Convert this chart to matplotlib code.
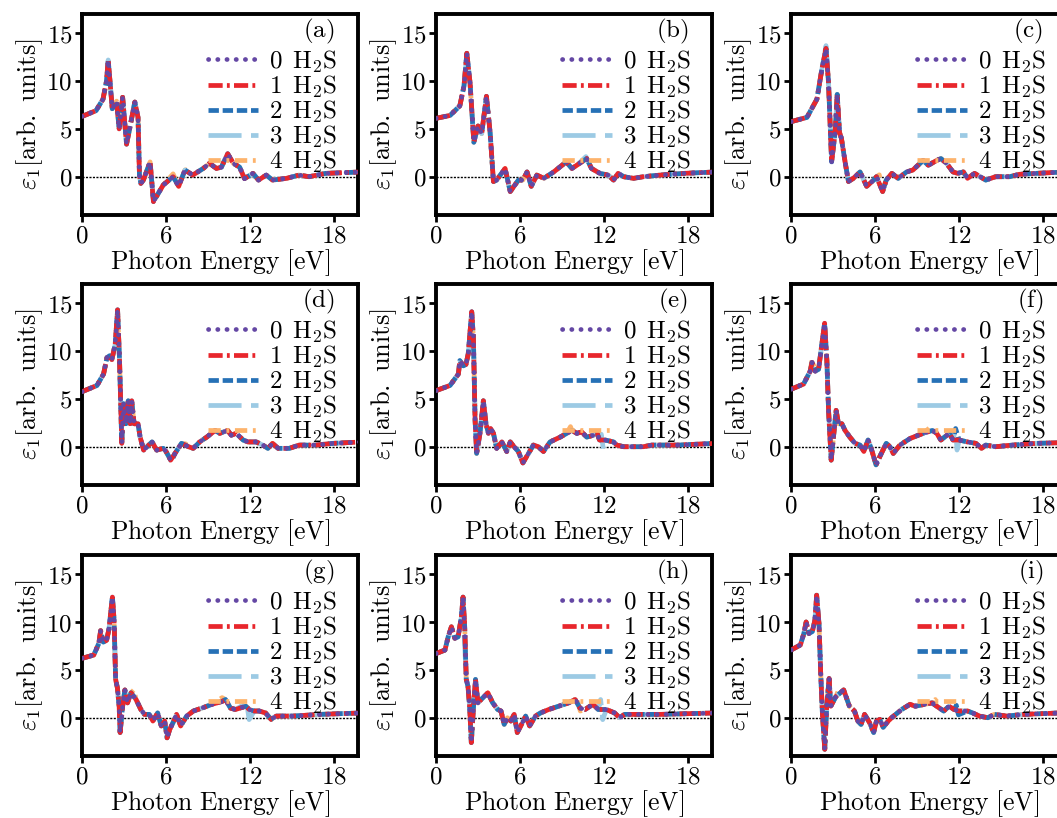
import matplotlib
matplotlib.use('Agg')
import matplotlib.pyplot as plt
from matplotlib.ticker import FixedLocator, FuncFormatter

plt.rcParams['mathtext.fontset'] = 'cm'
plt.rcParams['font.family'] = 'serif'

panel_tags = ['(a)', '(b)', '(c)', '(d)', '(e)', '(f)', '(g)', '(h)', '(i)']
n_h2s = [0, 1, 2, 3, 4]
xticks = [0, 6, 12, 18]
yticks = [0, 5, 10, 15]

# eps_1, (energy eV, value) for the 0 H2S curve of each panel
energy_a = [0, 1.0, 1.5, 1.75, 1.87, 2.16, 2.47, 2.65, 2.9, 3.18, 3.4, 3.65, 3.77, 4.0, 4.1, 4.2, 4.38,
            4.86, 5.1, 5.8, 6.5, 6.9, 7.35, 7.9, 8.65, 9.1, 9.6, 9.95, 10.4, 10.8, 11.25, 11.6, 12.2,
            12.6, 13.15, 13.6, 14.6, 15.5, 16.2, 17.4, 20.0]
eps_a = [6.3, 6.9, 8.1, 10.0, 12.2, 7.1, 7.9, 5.0, 8.3, 3.4, 5.0, 6.9, 7.8, 6.2, 0.2, -0.7, -0.35,
         1.55, -2.6, -0.86, 0.0, -1.0, 0.7, 0.17, 0.86, 1.4, 0.86, 1.0, 2.4, 1.4, 1.0, -0.2, 0.35,
         -0.35, 0.17, -0.35, -0.17, 0.17, 0.0, 0.35, 0.5]

energy_b = [0, 1.0, 1.7, 2.0, 2.2, 2.43, 2.7, 3.0, 3.26, 3.6, 3.86, 4.1, 4.33, 4.93, 5.3, 5.88, 6.2,
            6.5, 6.8, 7.2, 7.7, 8.4, 9.3, 9.7, 10.05, 10.76, 11.1, 11.7, 12.3, 12.67, 13.0, 13.4,
            14.1, 14.8, 16.0, 17.7, 20.0]
eps_b = [6.1, 6.4, 7.4, 9.5, 12.9, 9.8, 3.6, 5.3, 4.5, 8.4, 4.65, -0.5, -0.35, 0.86, -1.55, -0.35,
         -0.35, 0.5, -1.0, 0.17, -0.17, 0.5, 1.55, 0.86, 1.2, 1.9, 0.86, 0.35, 0.17, -0.35, 0.35, 0.0,
         -0.17, 0.0, 0.17, 0.35, 0.5]

energy_c = [0, 1.14, 1.85, 2.2, 2.5, 2.68, 2.9, 3.15, 3.3, 3.46, 3.6, 3.86, 4.1, 4.45, 4.93, 5.4,
            5.9, 6.1, 6.54, 6.8, 7.2, 7.65, 8.25, 8.7, 9.43, 9.8, 10.4, 10.7, 11.1, 11.56, 11.9, 12.3,
            12.6, 13.1, 13.9, 14.6, 15.6, 16.3, 17.5, 18.9, 20.0]
eps_c = [5.75, 6.2, 8.1, 11.2, 13.4, 9.8, 1.55, 4.65, 8.6, 4.65, 4.0, 1.55, -0.5, -0.17, 0.5, -1.0,
         -0.35, 0.0, -1.55, -0.35, 0.35, -0.17, 0.5, 0.7, 1.7, 1.2, 1.7, 1.9, 1.4, 0.5, 0.35, 0.5,
         -0.17, 0.35, -0.35, 0.0, 0.0, 0.25, 0.35, 0.45, 0.5]

energy_d = [0, 1.07, 1.54, 1.78, 1.97, 2.13, 2.37, 2.54, 2.68, 2.84, 2.96, 3.13, 3.3, 3.44, 3.55,
            3.72, 4.0, 4.15, 4.4, 5.0, 5.33, 5.8, 6.0, 6.33, 6.64, 7.1, 7.6, 7.94, 8.4, 8.9, 9.5,
            9.83, 10.4, 10.66, 11.0, 11.5, 11.85, 12.44, 12.9, 13.27, 13.6, 14.0, 14.8, 15.5, 16.7,
            17.9, 20.0]
eps_d = [5.75, 6.4, 7.6, 9.3, 9.5, 9.1, 10.7, 14.3, 9.0, 0.35, 4.5, 2.4, 4.8, 2.4, 4.8, 2.4, 2.4,
         1.0, -0.35, 0.5, -0.35, -0.17, -0.5, -1.4, -0.7, 0.35, 0.0, -0.17, 0.5, 1.0, 1.7, 1.4, 1.7,
         1.2, 1.4, 0.7, 0.5, 0.5, 0.17, -0.17, 0.35, -0.17, -0.17, 0.17, 0.17, 0.35, 0.5]

energy_e = [0, 1.0, 1.6, 1.7, 1.95, 2.14, 2.3, 2.55, 2.67, 2.79, 2.9, 3.14, 3.38, 3.57, 3.74, 3.9,
            4.1, 4.33, 4.7, 5.05, 5.3, 5.57, 5.88, 6.2, 6.48, 6.95, 7.3, 7.67, 8.14, 8.86, 9.33, 9.7,
            10.05, 10.4, 10.76, 11.24, 11.5, 11.67, 12.07, 12.67, 12.9, 13.4, 13.86, 14.8, 15.4,
            17.2, 20.0]
eps_e = [5.86, 6.4, 7.6, 9.0, 8.45, 8.6, 9.7, 14.1, 11.4, 2.8, -0.7, 1.4, 4.8, 2.4, 1.4, 1.9, 1.4,
         -0.17, 0.5, -0.5, 0.5, 0.0, -0.5, -1.7, -1.0, 0.17, 0.0, -0.5, 0.5, 1.0, 1.4, 1.7, 1.4,
         1.55, 1.0, 1.2, 1.4, 0.7, 0.7, 0.5, 0.17, 0.0, 0.0, 0.0, 0.17, 0.17, 0.35]

energy_f = [0, 0.9, 1.37, 1.5, 1.73, 1.97, 2.2, 2.4, 2.56, 2.68, 2.87, 3.03, 3.22, 3.39, 3.63, 3.86,
            4.2, 4.57, 4.93, 5.2, 5.5, 5.76, 6.07, 6.35, 6.8, 7.06, 7.3, 7.77, 8.5, 9.43, 10.1, 10.4,
            10.7, 11.3, 11.56, 12.0, 12.6, 13.2, 13.6, 13.9, 14.6, 15.8, 17.5, 20.0]
eps_f = [6.0, 6.55, 7.9, 8.8, 7.9, 8.1, 10.7, 12.9, 9.0, 3.8, -1.4, 1.0, 3.8, 2.4, 2.4, 1.7, 1.0,
         0.35, 0.17, -0.5, 0.7, -0.35, -1.9, -1.0, 0.35, 0.0, -0.7, 0.17, 0.86, 1.4, 1.7, 1.4, 0.7,
         1.4, 0.7, 0.7, 0.5, 0.35, -0.17, 0.17, 0.0, 0.17, 0.35, 0.45]

energy_g = [0, 0.84, 1.2, 1.33, 1.52, 1.76, 1.93, 2.17, 2.29, 2.4, 2.53, 2.65, 2.72, 2.9, 3.06, 3.25,
            3.5, 3.86, 4.2, 4.46, 4.8, 5.06, 5.4, 5.66, 5.9, 6.07, 6.27, 6.5, 6.75, 7.04, 7.47, 7.95,
            8.55, 9.28, 10.0, 10.24, 10.6, 10.96, 11.7, 11.93, 12.3, 12.65, 13.1, 13.5, 13.86, 15.06,
            17.0, 20.0]
eps_g = [6.2, 6.55, 7.76, 9.1, 7.9, 8.1, 9.3, 12.6, 10.2, 4.0, 3.1, 1.2, -1.55, 1.2, 2.9, 1.55, 2.6,
         1.9, 0.86, 0.35, 0.35, -0.35, 0.5, -0.86, -0.35, -2.1, -1.2, -0.5, 0.35, -0.86, 0.17, 0.7,
         1.0, 1.4, 1.7, 1.9, 1.0, 0.86, 1.2, 0.86, 0.7, 0.7, 0.5, -0.17, 0.17, 0.17, 0.35, 0.5]

energy_h = [0, 0.64, 0.87, 1.1, 1.34, 1.58, 1.81, 1.93, 2.05, 2.16, 2.28, 2.4, 2.52, 2.68, 2.82, 2.99,
            3.22, 3.7, 4.05, 4.4, 4.64, 4.87, 5.1, 5.34, 5.58, 5.8, 6.05, 6.4, 6.68, 7.1, 7.46, 8.05,
            8.75, 9.46, 9.93, 10.28, 10.64, 11.2, 11.58, 12.16, 12.75, 13.1, 13.46, 14.6, 16.05, 20.0]
eps_h = [6.7, 7.07, 8.45, 9.5, 8.3, 8.45, 10.5, 12.6, 9.5, 4.0, 3.3, 1.2, -2.6, 1.2, 4.0, 1.55, 1.9,
         2.6, 1.55, 0.86, 0.7, -0.7, 0.0, -0.35, 0.35, -1.55, -0.86, 0.17, -0.86, 0.17, 0.5, 0.86,
         1.2, 1.55, 1.9, 1.0, 0.86, 1.4, 0.86, 0.86, 0.5, 0.0, 0.35, 0.35, 0.35, 0.5]

energy_i = [0, 0.67, 0.92, 1.08, 1.28, 1.52, 1.71, 1.83, 2.0, 2.12, 2.24, 2.41, 2.55, 2.72, 2.84,
            3.2, 3.76, 4.17, 4.53, 4.77, 5.0, 5.25, 5.6, 5.9, 6.1, 6.34, 6.58, 6.94, 7.18, 7.9, 8.5,
            8.87, 10.07, 10.4, 10.9, 11.28, 11.64, 12.0, 12.6, 12.96, 13.45, 14.05, 14.5, 15.4, 16.6,
            19.25, 20.0]
eps_i = [7.07, 7.6, 8.8, 10.0, 8.8, 9.0, 10.2, 12.8, 9.8, 4.65, 0.5, -3.3, 1.2, 4.1, 1.2, 2.2, 2.9,
         1.2, 0.7, -0.35, -0.7, 0.35, -0.5, -1.55, -0.35, -0.17, -1.0, -0.35, 0.0, 0.86, 1.4, 1.2,
         1.55, 1.2, 0.7, 1.2, 0.86, 0.7, 0.7, 0.5, 0.17, 0.0, 0.35, 0.17, 0.35, 0.5, 0.5]

# points where the 1-4 H2S curves peek out from under the 0 H2S curve
extra_a = {4: [(6.5, 0.3), (7.5, 0.75)]}
extra_b = {3: [(10.7, 2.1)], 4: [(6.4, 0.3), (7.3, 0.4)]}
extra_c = {3: [(2.5, 13.7), (10.6, 2.0)], 4: [(6.3, 0.2), (7.5, 0.3)]}
extra_d = {2: [(6.4, -1.5)], 4: [(7.4, 0.3)]}
extra_e = {3: [(2.9, -0.9), (11.8, 1.3), (11.95, -0.35)], 4: [(9.6, 2.1)]}
extra_f = {2: [(11.75, 1.9)], 3: [(11.75, 1.9), (11.85, -0.35)], 4: [(10.0, 2.1), (1.5, 9.1)]}
extra_g = {2: [(2.17, 12.7)], 3: [(11.75, 1.55), (11.93, -0.2)], 4: [(3.7, 2.9), (10.0, 2.1)]}
extra_h = {3: [(11.75, 1.9), (11.9, -0.2), (2.0, 9.0)], 4: [(10.0, 2.2), (10.3, 0.7)]}
extra_i = {2: [(11.8, 1.3), (11.95, 0.3)], 3: [(11.75, 1.4)], 4: [(3.4, 2.9), (10.3, 1.9)]}

energies = [energy_a, energy_b, energy_c, energy_d, energy_e, energy_f, energy_g, energy_h, energy_i]
epsilons = [eps_a, eps_b, eps_c, eps_d, eps_e, eps_f, eps_g, eps_h, eps_i]
extras = [extra_a, extra_b, extra_c, extra_d, extra_e, extra_f, extra_g, extra_h, extra_i]

colors = ['#6447a4', '#e8262c', '#2671b6', '#9ccae4', '#fdb36c']
styles = [(0, (0.05, 1.9)), (0, (3, 0.9, 0.6, 0.9)), (0, (2.2, 0.8)),
          (0, (7, 2)), (0, (2.6, 1.2, 0.6, 1.2))]
zorders = [2.8, 2.6, 2.4, 2.2, 2.0]


def series_points(energy, eps, extra):
    if not extra:
        return energy, eps
    ex = [p[0] for p in extra]
    pts = [(x, y) for x, y in zip(energy, eps) if min(abs(x - e) for e in ex) > 0.06]
    pts = sorted(pts + list(extra))
    return [p[0] for p in pts], [p[1] for p in pts]


W, H = 1057, 818
fig = plt.figure(figsize=(W / 100, H / 100), dpi=100)

col_left = [82, 436, 791]
row_top = [14, 284, 555]
ax_w, ax_h = 276, 201

tick_fmt = FuncFormatter(lambda v, p: f'${v:g}$')

for k in range(9):
    r, c = divmod(k, 3)
    ax = fig.add_axes([col_left[c] / W, 1 - (row_top[r] + ax_h) / H, ax_w / W, ax_h / H])
    ax.axhline(0, color='black', lw=1.0, ls=(0, (1.5, 1.0)), zorder=1.5)
    for s in n_h2s:
        x, y = series_points(energies[k], epsilons[k], extras[k].get(s, []))
        line, = ax.plot(x, y, color=colors[s], lw=3.4, ls=styles[s], zorder=zorders[s],
                        label=f'${s}\\ \\,\\mathrm{{H_2S}}$')
        if s == 0:
            line.set_dash_capstyle('round')
    ax.set_xlim(0, 19.7)
    ax.set_ylim(-4, 17)
    ax.xaxis.set_major_locator(FixedLocator(xticks))
    ax.yaxis.set_major_locator(FixedLocator(yticks))
    ax.xaxis.set_major_formatter(tick_fmt)
    ax.yaxis.set_major_formatter(tick_fmt)
    ax.tick_params(direction='out', length=5, width=2, labelsize=18, pad=2)
    for sp in ax.spines.values():
        sp.set_linewidth(2.8)
    ax.set_xlabel(r'$\mathrm{Photon\ Energy\ [eV]}$', fontsize=18.5, labelpad=0)
    ax.set_ylabel(r'$\varepsilon_1[\mathrm{arb.\ units}]$', fontsize=19, labelpad=1)
    ax.text(0.915, 0.985, f'$\\mathrm{{{panel_tags[k]}}}$', transform=ax.transAxes,
            ha='right', va='top', fontsize=18)
    ax.legend(loc='upper right', bbox_to_anchor=(0.925, 0.83), frameon=False, fontsize=18,
              handlelength=2.0, handletextpad=0.45, labelspacing=-0.05, borderaxespad=0,
              borderpad=0)

fig.savefig('out.png', dpi=100)
